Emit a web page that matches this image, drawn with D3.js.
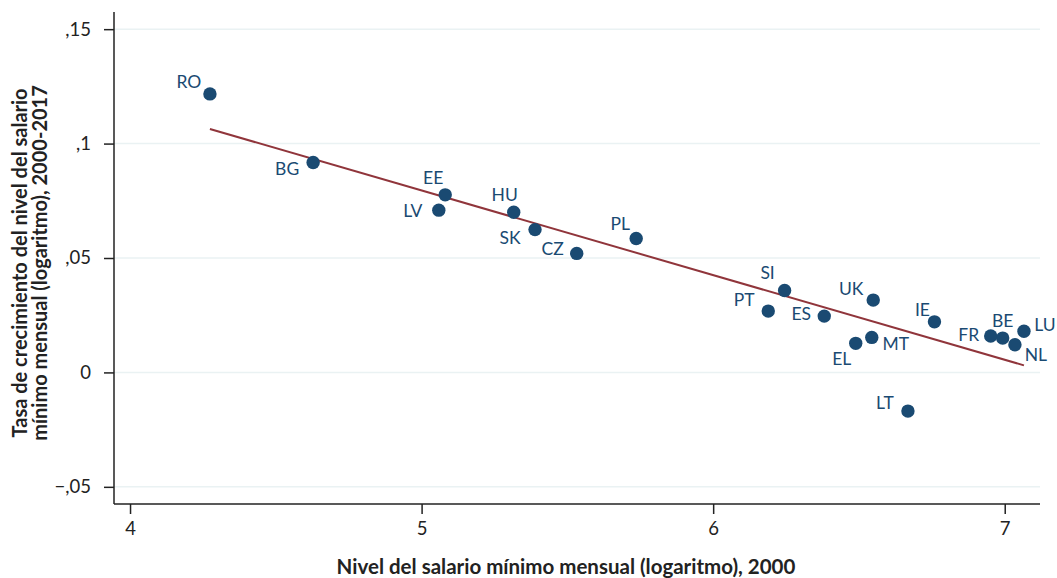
<!DOCTYPE html>
<html>
<head>
<meta charset="utf-8">
<script src="https://cdn.jsdelivr.net/npm/d3@7"></script>
<style>
  body { margin: 0; background: #fff; }
  svg { font-family: "Source Sans Pro", Lato, "Noto Sans", sans-serif; }
</style>
</head>
<body>
<div id="chart"></div>
<script>
// Country codes and values
const countries = ['RO','BG','EE','LV','HU','SK','CZ','PL','SI','PT','ES','UK','EL','MT','LT','IE','FR','BE','NL','LU'];
// log of monthly minimum wage, 2000
const wage2000 = [4.274, 4.628, 5.081, 5.059, 5.316, 5.389, 5.532, 5.736, 6.245, 6.189, 6.381, 6.549, 6.489, 6.544, 6.668, 6.759, 6.952, 6.993, 7.035, 7.066];
// growth rate of the minimum wage, 2000-2017
const growth = [0.1217, 0.0917, 0.0776, 0.0709, 0.0700, 0.0624, 0.0520, 0.0585, 0.0358, 0.0268, 0.0246, 0.0316, 0.0127, 0.0153, -0.0169, 0.0221, 0.0159, 0.0150, 0.0121, 0.0180];
const xTicks = [4, 5, 6, 7];
const yTicks = [-0.05, 0, 0.05, 0.1, 0.15];

// label placement around each marker (text centre offset, px)
const labelOffset = {
  RO: [-21, -12], BG: [-26, 6], EE: [-12, -17], LV: [-26, 0], HU: [-9, -18],
  SK: [-25, 8], CZ: [-24, -5], PL: [-16, -15], SI: [-17, -18], PT: [-24, -12],
  ES: [-23, -3], UK: [-22, -12], EL: [-14, 15], MT: [24, 6], LT: [-23, -9],
  IE: [-12, -12], FR: [-22, -2], BE: [0, -18], NL: [21, 10], LU: [21, -7]
};

const width = 1057, height = 578;
const margin = {top: 12, right: 17, bottom: 74, left: 114};
const navy = '#1a4a72', maroon = '#90353b';

const data = countries.map((c, i) => ({code: c, x: wage2000[i], y: growth[i]}));

const svg = d3.select('#chart').append('svg')
  .attr('width', width)
  .attr('height', height);

const x = d3.scaleLinear()
  .domain([3.945, 7.121])
  .range([margin.left, width - margin.right]);
const y = d3.scaleLinear()
  .domain([-0.0575, 0.1575])
  .range([height - margin.bottom, margin.top]);

const fmtY = d => d === 0 ? '0' : d3.format('.2~f')(d).replace('0.', ',').replace('-', '\u2212');

// gridlines
svg.append('g')
  .selectAll('line')
  .data(yTicks)
  .join('line')
  .attr('x1', margin.left)
  .attr('x2', width - margin.right)
  .attr('y1', d => y(d))
  .attr('y2', d => y(d))
  .attr('stroke', '#eaf2f3')
  .attr('stroke-width', 1.5);

// axes
const xAxis = svg.append('g')
  .attr('transform', `translate(0,${height - margin.bottom})`)
  .call(d3.axisBottom(x).tickValues(xTicks).tickSize(10).tickPadding(8).tickFormat(d3.format('d')));
const yAxis = svg.append('g')
  .attr('transform', `translate(${margin.left},0)`)
  .call(d3.axisLeft(y).tickValues(yTicks).tickSize(10).tickPadding(13).tickFormat(fmtY));

[xAxis, yAxis].forEach(a => {
  a.select('.domain').attr('stroke', '#222').attr('stroke-width', 1.5);
  a.selectAll('.tick line').attr('stroke', '#222').attr('stroke-width', 1.5);
  a.selectAll('.tick text')
    .attr('fill', '#222')
    .style('font-size', '18.5px')
    .style('font-family', '"Source Sans Pro", Lato, "Noto Sans", sans-serif');
});
xAxis.select('.domain').attr('d', `M${margin.left},0H${width - margin.right}`);
yAxis.select('.domain').attr('d', `M0,${margin.top}V${height - margin.bottom}`);

// linear fit (OLS)
const mx = d3.mean(data, d => d.x), my = d3.mean(data, d => d.y);
const slope = d3.sum(data, d => (d.x - mx) * (d.y - my)) / d3.sum(data, d => (d.x - mx) ** 2);
const intercept = my - slope * mx;
const xExt = d3.extent(data, d => d.x);
svg.append('path')
  .datum(xExt.map(v => [v, intercept + slope * v]))
  .attr('d', d3.line().x(d => x(d[0])).y(d => y(d[1])))
  .attr('fill', 'none')
  .attr('stroke', maroon)
  .attr('stroke-width', 2);

// markers
svg.append('g')
  .selectAll('circle')
  .data(data)
  .join('circle')
  .attr('cx', d => x(d.x))
  .attr('cy', d => y(d.y))
  .attr('r', 6.7)
  .attr('fill', navy);

// labels
svg.append('g')
  .selectAll('text')
  .data(data)
  .join('text')
  .attr('x', d => x(d.x) + labelOffset[d.code][0])
  .attr('y', d => y(d.y) + labelOffset[d.code][1])
  .attr('text-anchor', 'middle')
  .attr('dominant-baseline', 'central')
  .attr('fill', navy)
  .style('font-size', '17.5px')
  .text(d => d.code);

// axis titles
svg.append('text')
  .attr('x', 566)
  .attr('y', 574)
  .attr('text-anchor', 'middle')
  .style('font-size', '20.5px')
  .style('font-weight', 'bold')
  .attr('fill', '#222')
  .text('Nivel del salario mínimo mensual (logaritmo), 2000');

const yTitle = svg.append('text')
  .attr('transform', 'translate(27,263) rotate(-90)')
  .attr('text-anchor', 'middle')
  .style('font-size', '20px')
  .style('font-weight', 'bold')
  .attr('fill', '#222');
yTitle.append('tspan').attr('x', 0).attr('y', 0).text('Tasa de crecimiento del nivel del salario');
yTitle.append('tspan').attr('x', 0).attr('y', 20).text('mínimo mensual (logaritmo), 2000-2017');
</script>
</body>
</html>
